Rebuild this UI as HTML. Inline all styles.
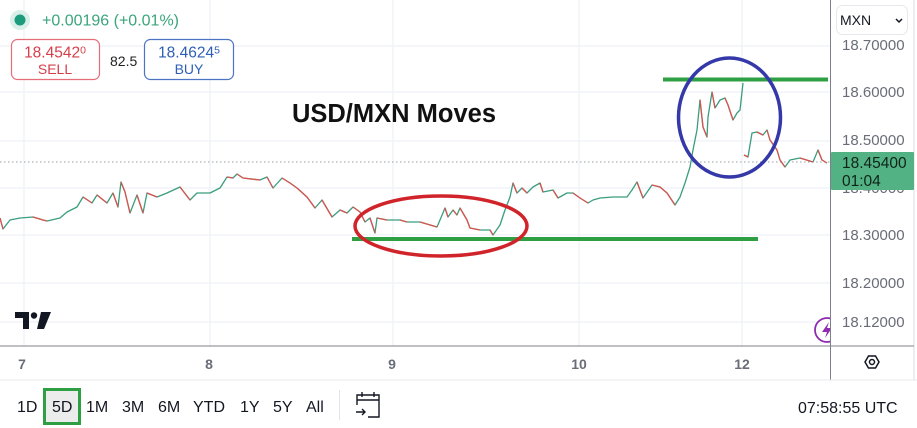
<!DOCTYPE html>
<html><head><meta charset="utf-8"><style>
html,body{margin:0;padding:0;background:#fff;}
body{width:917px;height:428px;overflow:hidden;position:relative;font-family:"Liberation Sans",sans-serif;}
svg{position:absolute;left:0;top:0;}
</style></head><body>
<svg width="917" height="428" viewBox="0 0 917 428" xmlns="http://www.w3.org/2000/svg" font-family="Liberation Sans, sans-serif">
<rect width="917" height="428" fill="#fff"/>
<!-- grid -->
<g stroke="#eef1f6" stroke-width="1.2">
<line x1="0" y1="46" x2="830" y2="46"/>
<line x1="0" y1="92" x2="830" y2="92"/>
<line x1="0" y1="141" x2="830" y2="141"/>
<line x1="0" y1="188" x2="830" y2="188"/>
<line x1="0" y1="235" x2="830" y2="235"/>
<line x1="0" y1="283" x2="830" y2="283"/>
<line x1="0" y1="322" x2="830" y2="322"/>
<line x1="24" y1="0" x2="24" y2="346"/>
<line x1="210" y1="0" x2="210" y2="346"/>
<line x1="393" y1="0" x2="393" y2="346"/>
<line x1="579" y1="0" x2="579" y2="346"/>
<line x1="742" y1="0" x2="742" y2="346"/>
</g>
<!-- current price dotted line -->
<line x1="0" y1="162" x2="830" y2="162" stroke="#9ba0aa" stroke-width="1" stroke-dasharray="1.5,2.5"/>

<!-- price series -->
<path fill="none" stroke="#3a9d7e" stroke-width="1.3" stroke-linejoin="round" d="M0,218 L3,229 L10,220 L20,218 L33,217 L43,220 L47,221 L60,218 L67,212 L77,207 L83,197 L92,203 L97,195 L107,203 L113,193 L118,207 L121,182 L125,192 L130,213 L137,195 L143,213 L147,193 L157,197 L167,193 L180,187 L190,200 L197,193 L210,193 L220,188 L227,177 L233,178 L237,174 L243,178 L260,180 L267,177 L273,188 L282,178 L290,183 L297,188 L307,197 L315,208 L322,200 L332,217 L340,210 L347,213 L353,207 L360,212 L365,222 L370,218 L375,233 L377,218 L387,220 L400,220 L407,222 L420,222 L437,227 L440,220 L445,208 L448,217 L453,210 L457,215 L460,208 L467,220 L470,228 L480,230 L490,230 L493,235 L500,225 L505,210 L510,197 L513,183 L517,193 L522,188 L527,193 L533,187 L540,183 L543,192 L553,190 L558,198 L567,193 L573,193 L580,198 L588,203 L593,200 L600,198 L613,197 L627,197 L632,190 L637,182 L643,198 L652,185 L660,187 L667,193 L675,205 L680,197 L685,183 L690,167 L693,150 L697,130 L700,100 L703,127 L707,137 L708,117 L712,92 L715,108 L720,100 L725,98 L728,105 L733,120 L737,113 L740,110 L743,83 M744,155 L748,157 L752,133 L757,132 L763,135 L767,130 L770,140 L777,150 L780,160 L785,167 L790,160 L800,158 L813,162 L818,150 L822,160 L827,163"/>
<path fill="none" stroke="#d9534f" stroke-width="1.3" stroke-linejoin="round" d="M0,218L3,229 M33,217L43,220L47,221 M83,197L92,203 M97,195L107,203 M113,193L118,207 M121,182L125,192L130,213 M137,195L143,213 M147,193L157,197 M180,187L190,200 M227,177L233,178 M237,174L243,178L260,180 M267,177L273,188 M282,178L290,183L297,188L307,197L315,208 M322,200L332,217 M340,210L347,213 M353,207L360,212L365,222 M370,218L375,233 M377,218L387,220 M400,220L407,222 M420,222L437,227 M445,208L448,217 M453,210L457,215 M460,208L467,220L470,228L480,230 M490,230L493,235 M513,183L517,193 M522,188L527,193 M540,183L543,192 M553,190L558,198 M573,193L580,198L588,203 M637,182L643,198 M652,185L660,187L667,193L675,205 M700,100L703,127L707,137 M712,92L715,108 M725,98L728,105L733,120 M744,155L748,157 M757,132L763,135 M767,130L770,140L777,150L780,160L785,167 M800,158L813,162 M818,150L822,160L827,163"/>

<!-- annotations -->
<line x1="352" y1="239" x2="758" y2="239" stroke="#2ea043" stroke-width="4"/>
<line x1="663" y1="79.5" x2="828" y2="79.5" stroke="#2ea043" stroke-width="4"/>
<ellipse cx="441" cy="226" rx="86" ry="30" fill="none" stroke="#d0242a" stroke-width="3.5"/>
<ellipse cx="729.5" cy="117.5" rx="51" ry="59.5" fill="none" stroke="#3438a8" stroke-width="3.5"/>

<text x="394" y="122" text-anchor="middle" font-size="25.5" font-weight="bold" fill="#111">USD/MXN Moves</text>

<!-- header -->
<circle cx="20" cy="20" r="10" fill="#d9efe8"/>
<circle cx="20" cy="20" r="5.5" fill="#1e9b7d"/>
<text x="42" y="25.5" font-size="16" fill="#3aa57c">+0.00196 (+0.01%)</text>

<rect x="11.5" y="39.5" width="88" height="40" rx="6" fill="#fff" stroke="#e46e77" stroke-width="1.2"/>
<text x="55" y="57.5" text-anchor="middle" font-size="15.5" fill="#d63e4a">18.4542<tspan font-size="10.5" dy="-4">0</tspan></text>
<text x="55" y="74" text-anchor="middle" font-size="14" fill="#d63e4a">SELL</text>
<text x="110" y="66" font-size="14" fill="#222">82.5</text>
<rect x="144.5" y="39.5" width="89" height="40" rx="6" fill="#fff" stroke="#4d73c4" stroke-width="1.2"/>
<text x="189" y="57.5" text-anchor="middle" font-size="15.5" fill="#2d5fb5">18.4624<tspan font-size="10.5" dy="-4">5</tspan></text>
<text x="189" y="74" text-anchor="middle" font-size="14" fill="#2d5fb5">BUY</text>

<!-- TV logo -->
<g fill="#131722">
<path d="M15,312 H29 V329 H23 V318 H15 Z"/>
<circle cx="34" cy="315.5" r="3.2"/>
<path d="M41,312 H51 L44,329 H37 Z"/>
</g>

<!-- lightning icon -->
<circle cx="827" cy="330" r="12" fill="#fff" stroke="#8e2bb0" stroke-width="1.8"/>
<path d="M829,322 L822,332 H827 L825,338 L832,328 H827 Z" fill="#8e2bb0"/>

<!-- right price axis -->
<rect x="831" y="0" width="86" height="380" fill="#fff"/>
<line x1="830.5" y1="0" x2="830.5" y2="380" stroke="#7d8089" stroke-width="1"/>
<line x1="914" y1="0" x2="914" y2="380" stroke="#eceef2" stroke-width="2"/>
<rect x="836.5" y="5.5" width="71" height="29" rx="6" fill="#fff" stroke="#e6e8ee" stroke-width="1"/>
<text x="840" y="25" font-size="14" fill="#131722">MXN</text>
<path d="M896,19 L899,22 L902,19" fill="none" stroke="#131722" stroke-width="1.5"/>
<g font-size="15" fill="#6a6d78">
<text x="842" y="50">18.70000</text>
<text x="842" y="97">18.60000</text>
<text x="842" y="145">18.50000</text>
<text x="842" y="193">18.40000</text>
<text x="842" y="240">18.30000</text>
<text x="842" y="288">18.20000</text>
<text x="842" y="327">18.12000</text>
</g>
<rect x="831" y="152" width="83" height="38" rx="1" fill="#52b283"/>
<text x="842" y="168" font-size="15.5" fill="#10231a">18.45400</text>
<text x="842" y="186" font-size="15.5" fill="#10231a">01:04</text>

<!-- time axis -->
<line x1="0" y1="346" x2="914" y2="346" stroke="#7d8089" stroke-width="1"/>
<g font-size="14" fill="#6a6d78" text-anchor="middle" font-weight="bold">
<text x="22" y="369">7</text>
<text x="209" y="369">8</text>
<text x="392" y="369">9</text>
<text x="579" y="369">10</text>
<text x="742" y="369">12</text>
</g>
<!-- gear -->
<path d="M865,362 L868.5,356 H875.5 L879,362 L875.5,368 H868.5 Z" fill="none" stroke="#131722" stroke-width="1.5"/>
<circle cx="872" cy="362" r="2.5" fill="none" stroke="#131722" stroke-width="1.5"/>

<!-- toolbar -->
<line x1="0" y1="380" x2="917" y2="380" stroke="#e6e8ee" stroke-width="1"/>
<rect x="44.5" y="389.5" width="35" height="34" fill="#ececec" stroke="#2ea043" stroke-width="3"/>
<g font-size="16" fill="#131722">
<text x="17" y="412">1D</text>
<text x="52" y="412">5D</text>
<text x="86" y="412">1M</text>
<text x="122" y="412">3M</text>
<text x="158" y="412">6M</text>
<text x="193" y="412">YTD</text>
<text x="240" y="412">1Y</text>
<text x="273" y="412">5Y</text>
<text x="306" y="412">All</text>
<text x="798" y="413">07:58:55 UTC</text>
</g>
<line x1="339.5" y1="390" x2="339.5" y2="420" stroke="#e0e3eb" stroke-width="1"/>
<!-- calendar icon -->
<g fill="none" stroke="#131722" stroke-width="1.4">
<path d="M357,405 V395 H379 V417 H368"/>
<line x1="357" y1="400" x2="379" y2="400"/>
<line x1="362" y1="392" x2="362" y2="397"/>
<line x1="374" y1="392" x2="374" y2="397"/>
<path d="M356,412 H365 M362,409 L365,412 L362,415"/>
</g>
</svg>
</body></html>
